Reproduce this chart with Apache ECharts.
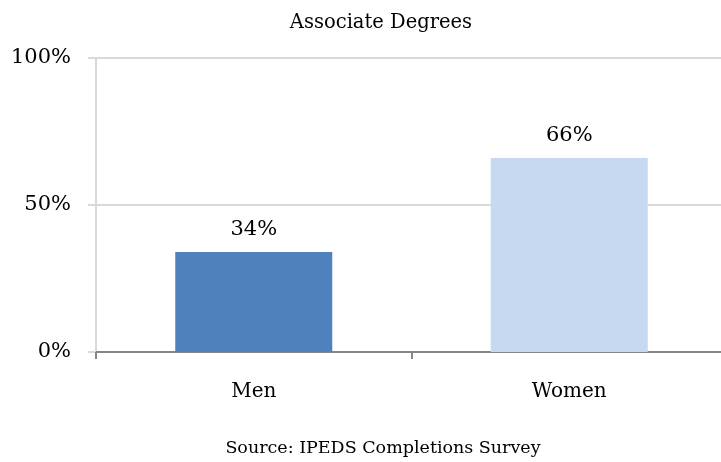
<!DOCTYPE html>
<html>
<head>
<meta charset="utf-8">
<style>
  html, body { margin: 0; padding: 0; background: #fff; }
  #chart { width: 721px; height: 462px; }
</style>
<script src="https://cdn.jsdelivr.net/npm/echarts@6/dist/echarts.min.js"></script>
</head>
<body>
<div id="chart"></div>
<script>
const categories = ["Men", "Women"];
const shares = [34, 66];
const barColors = ["#4F81BD", "#C6D9F1"];
const yTicks = [0, 50, 100];

const font = "DejaVu Serif";
const chart = echarts.init(document.getElementById("chart"));

chart.setOption({
  animation: false,
  title: [
    {
      text: "Associate Degrees",
      left: 376,
      top: 8,
      textAlign: "center",
      textStyle: { fontFamily: font, fontSize: 19.5, fontWeight: "normal", color: "#000" }
    },
    {
      text: "Source: IPEDS Completions Survey",
      left: 378,
      top: 434,
      textAlign: "center",
      textStyle: { fontFamily: font, fontSize: 17.5, fontWeight: "normal", color: "#000" }
    }
  ],
  // axis runs a little past the right edge, as in the original
  grid: { left: 96, width: 631, top: 58, bottom: 110, outerBoundsMode: "none" },
  xAxis: {
    type: "category",
    data: categories,
    axisLine: { lineStyle: { color: "#868686", width: 2 } },
    axisTick: { show: true, length: 7, lineStyle: { color: "#868686", width: 2 } },
    axisLabel: { margin: 30, fontFamily: font, fontSize: 20, color: "#000" },
    splitLine: { show: false }
  },
  yAxis: {
    type: "value",
    min: yTicks[0],
    max: yTicks[yTicks.length - 1],
    interval: 50,
    axisLine: { show: true, lineStyle: { color: "#D9D9D9", width: 2 } },
    axisTick: { show: true, length: 8, lineStyle: { color: "#D9D9D9", width: 2 } },
    axisLabel: {
      margin: 25,
      fontFamily: font,
      fontSize: 21,
      color: "#000",
      formatter: v => v + "%"
    },
    splitLine: { show: true, lineStyle: { color: "#D9D9D9", width: 2 } }
  },
  series: [
    {
      type: "bar",
      barWidth: 157,
      data: shares.map((v, i) => ({ value: v, itemStyle: { color: barColors[i] } })),
      label: {
        show: true,
        position: "top",
        distance: 12,
        fontFamily: font,
        fontSize: 21,
        color: "#000",
        formatter: p => p.value + "%"
      }
    }
  ]
});
</script>
</body>
</html>
